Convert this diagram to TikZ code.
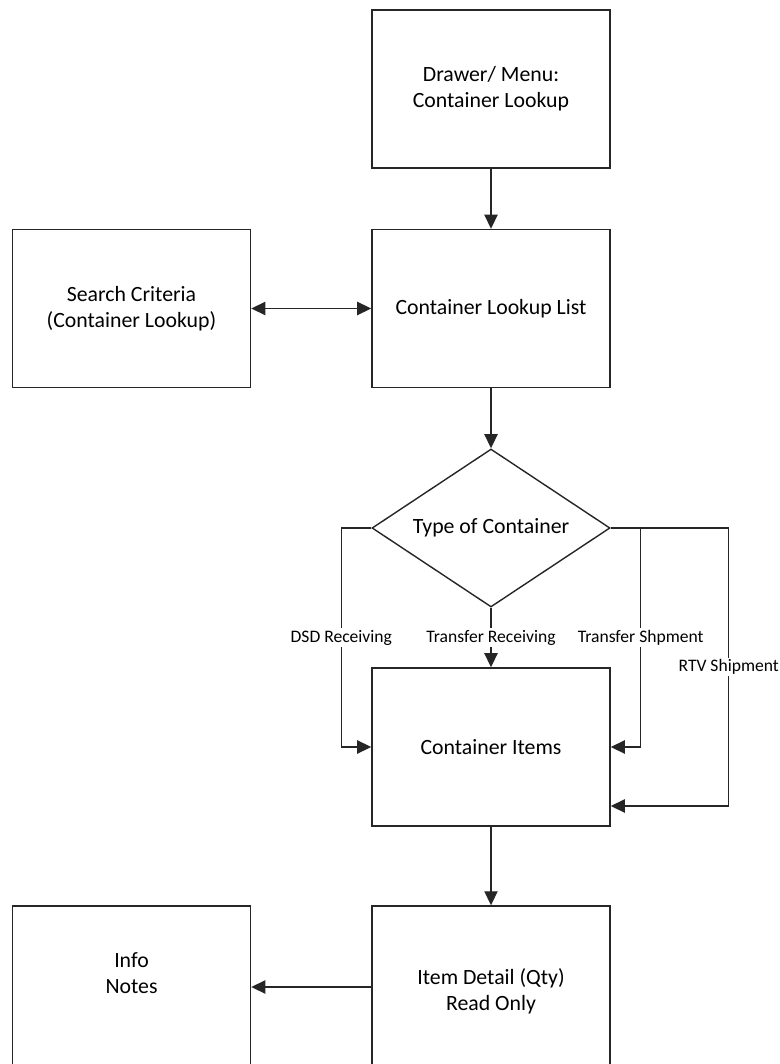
\documentclass[tikz,border=0pt]{standalone}
\usepackage{fontspec}
\setmainfont{Carlito}
\usetikzlibrary{shapes.geometric,arrows.meta}

\begin{document}
\begin{tikzpicture}[>={Triangle[length=8pt,width=7.5pt]},
  box/.style={draw=black!85,line width=0.8pt,minimum width=4.76cm,minimum height=3.16cm,align=center,font=\fontsize{12.4}{14.8}\selectfont},
  lbl/.style={fill=white,inner sep=1pt,font=\fontsize{10}{11.5}\selectfont},
  link/.style={->,draw=black!85,line width=0.8pt}]
\useasboundingbox (0,0) rectangle (15.58,-21.28);

\node[box] (menu) at (9.82,-1.78) {Drawer/ Menu:\\Container Lookup};
\node[box] (list) at (9.82,-6.17) {Container Lookup List};
\node[box] (search) at (2.63,-6.17) {Search Criteria\\(Container Lookup)};
\node[box,shape=diamond,aspect=1.5,minimum width=4.76cm,minimum height=3.16cm,inner sep=0pt]
  (type) at (9.82,-10.56) {Type of Container};
\node[box] (items) at (9.82,-14.94) {Container Items};
\node[box,minimum height=3.4cm] (detail) at (9.82,-19.82) {Item Detail (Qty)\\Read Only};
\node[box,minimum height=3.4cm] (info) at (2.63,-19.82) {Info\\Notes\\[0.2cm]};

\draw[link] (menu) -- (list);
\draw[link,<->] (search) -- (list);
\draw[link] (list) -- (type);
\draw[link] (type.south) -- node[lbl] {Transfer Receiving} (items.north);
\draw[link] (type.west) -- ++(-0.6,0) |- node[lbl,pos=0.25] {DSD Receiving} (items.west);
\draw[link] (type.east) -- ++(0.6,0) |- node[lbl,pos=0.25] {Transfer Shpment} (items.east);
\draw[link] (type.east) -- ++(2.36,0) |- node[lbl,pos=0.25] {RTV Shipment} ([yshift=-1.18cm]items.east);
\draw[link] (items) -- (detail);
\draw[link] (detail.west |- 0,-19.74) -- (info.east |- 0,-19.74);
\end{tikzpicture}
\end{document}
